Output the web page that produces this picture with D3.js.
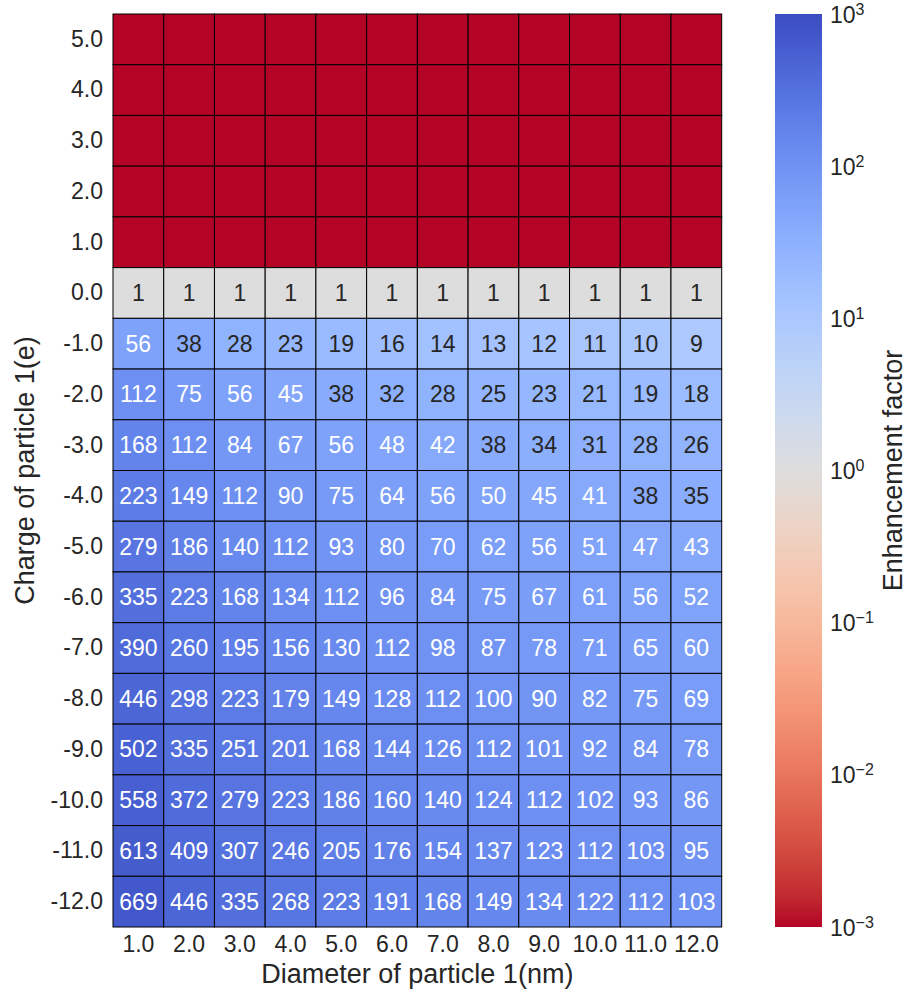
<!DOCTYPE html>
<html>
<head>
<meta charset="utf-8">
<script src="https://cdn.jsdelivr.net/npm/d3@7"></script>
<style>
  html, body { margin: 0; padding: 0; background: #fff; }
  svg { display: block; font-family: "Liberation Sans", Arial, Helvetica, sans-serif; }
</style>
</head>
<body>
<svg id="chart" width="908" height="991"></svg>
<script>
// Particle diameters (nm), columns
const diameters = [1.0, 2.0, 3.0, 4.0, 5.0, 6.0, 7.0, 8.0, 9.0, 10.0, 11.0, 12.0];
// Particle charges (e), rows from top to bottom
const charges = [5.0, 4.0, 3.0, 2.0, 1.0, 0.0, -1.0, -2.0, -3.0, -4.0, -5.0, -6.0, -7.0, -8.0, -9.0, -10.0, -11.0, -12.0];

// Enhancement factor per charge row (repulsive rows are ~0 and shown without a label)
const rowPos5  = [0, 0, 0, 0, 0, 0, 0, 0, 0, 0, 0, 0];
const rowPos4  = [0, 0, 0, 0, 0, 0, 0, 0, 0, 0, 0, 0];
const rowPos3  = [0, 0, 0, 0, 0, 0, 0, 0, 0, 0, 0, 0];
const rowPos2  = [0, 0, 0, 0, 0, 0, 0, 0, 0, 0, 0, 0];
const rowPos1  = [0, 0, 0, 0, 0, 0, 0, 0, 0, 0, 0, 0];
const rowZero  = [1, 1, 1, 1, 1, 1, 1, 1, 1, 1, 1, 1];
const rowNeg1  = [56, 38, 28, 23, 19, 16, 14, 13, 12, 11, 10, 9];
const rowNeg2  = [112, 75, 56, 45, 38, 32, 28, 25, 23, 21, 19, 18];
const rowNeg3  = [168, 112, 84, 67, 56, 48, 42, 38, 34, 31, 28, 26];
const rowNeg4  = [223, 149, 112, 90, 75, 64, 56, 50, 45, 41, 38, 35];
const rowNeg5  = [279, 186, 140, 112, 93, 80, 70, 62, 56, 51, 47, 43];
const rowNeg6  = [335, 223, 168, 134, 112, 96, 84, 75, 67, 61, 56, 52];
const rowNeg7  = [390, 260, 195, 156, 130, 112, 98, 87, 78, 71, 65, 60];
const rowNeg8  = [446, 298, 223, 179, 149, 128, 112, 100, 90, 82, 75, 69];
const rowNeg9  = [502, 335, 251, 201, 168, 144, 126, 112, 101, 92, 84, 78];
const rowNeg10 = [558, 372, 279, 223, 186, 160, 140, 124, 112, 102, 93, 86];
const rowNeg11 = [613, 409, 307, 246, 205, 176, 154, 137, 123, 112, 103, 95];
const rowNeg12 = [669, 446, 335, 268, 223, 191, 168, 149, 134, 122, 112, 103];
const rows = [rowPos5, rowPos4, rowPos3, rowPos2, rowPos1, rowZero, rowNeg1, rowNeg2,
              rowNeg3, rowNeg4, rowNeg5, rowNeg6, rowNeg7, rowNeg8, rowNeg9, rowNeg10,
              rowNeg11, rowNeg12];

// Colour bar exponents (10^e)
const cbarExponents = [3, 2, 1, 0, -1, -2, -3];

// Diverging cool-warm palette (blue -> gray -> red), 33 stops
const coolwarmStops = [
  [59,76,192],[68,90,204],[77,104,215],[87,117,225],[98,130,234],[108,142,241],
  [119,154,247],[130,165,251],[141,176,254],[152,185,255],[163,194,255],[174,201,253],
  [184,208,249],[194,213,244],[204,217,238],[213,219,230],[221,221,221],[229,216,209],
  [236,211,197],[241,204,185],[245,196,173],[247,187,160],[247,177,148],[247,166,135],
  [244,154,123],[241,141,111],[236,127,99],[229,112,88],[222,96,77],[213,80,66],
  [203,62,56],[192,40,47],[180,4,38]
];
function coolwarm(t) {
  t = Math.max(0, Math.min(1, t));
  const n = coolwarmStops.length - 1;
  const p = t * n;
  const i = Math.min(n - 1, Math.floor(p));
  const f = p - i;
  const a = coolwarmStops[i], b = coolwarmStops[i + 1];
  return d3.rgb(a[0] + (b[0] - a[0]) * f, a[1] + (b[1] - a[1]) * f, a[2] + (b[2] - a[2]) * f);
}

const vmin = 1e-3, vmax = 1e3;
const logNorm = d3.scaleLog().domain([vmin, vmax]).range([0, 1]).clamp(true);
// reversed palette: high values blue, low values red
const colorOf = v => coolwarm(1 - logNorm(Math.max(v, vmin)));

function luminance(c) {
  const lin = x => { x /= 255; return x <= 0.03928 ? x / 12.92 : Math.pow((x + 0.055) / 1.055, 2.4); };
  return 0.2126 * lin(c.r) + 0.7152 * lin(c.g) + 0.0722 * lin(c.b);
}

const svg = d3.select("#chart");
const plotLeft = 113, plotRight = 721.7, plotTop = 14, plotBottom = 927;
const tickFont = 23, labelFont = 27;

const x = d3.scaleBand().domain(diameters.map(String)).range([plotLeft, plotRight]).padding(0);
const y = d3.scaleBand().domain(charges.map(String)).range([plotTop, plotBottom]).padding(0);

const cells = [];
charges.forEach((c, ri) => diameters.forEach((d, ci) => cells.push({ c, d, v: rows[ri][ci] })));

const g = svg.append("g");
g.selectAll("rect.cell").data(cells).enter().append("rect")
  .attr("class", "cell")
  .attr("x", d => x(String(d.d)))
  .attr("y", d => y(String(d.c)))
  .attr("width", x.bandwidth())
  .attr("height", y.bandwidth())
  .attr("fill", d => colorOf(d.v))
  .attr("stroke", "#000")
  .attr("stroke-width", 1);

g.selectAll("text.annot").data(cells.filter(d => d.v >= 1)).enter().append("text")
  .attr("class", "annot")
  .attr("x", d => x(String(d.d)) + x.bandwidth() / 2)
  .attr("y", d => y(String(d.c)) + y.bandwidth() / 2)
  .attr("text-anchor", "middle")
  .attr("dominant-baseline", "central")
  .attr("font-size", tickFont)
  .attr("fill", d => luminance(colorOf(d.v)) > 0.408 ? "#262626" : "#ffffff")
  .text(d => d3.format(".0f")(d.v));

// Axes (plain hyphen for negative tick labels)
const fmt1 = v => (v < 0 ? "-" : "") + Math.abs(v).toFixed(1);
const xAxis = svg.append("g").attr("transform", `translate(0,${plotBottom})`)
  .call(d3.axisBottom(x).tickSize(0).tickPadding(9).tickFormat(d => fmt1(+d)));
const yAxis = svg.append("g").attr("transform", `translate(${plotLeft},0)`)
  .call(d3.axisLeft(y).tickSize(0).tickPadding(10).tickFormat(d => fmt1(+d)));
[xAxis, yAxis].forEach(a => {
  a.select(".domain").remove();
  a.selectAll("text").attr("font-size", tickFont).attr("fill", "#262626")
    .attr("font-family", "Liberation Sans, Arial, sans-serif");
});

svg.append("text")
  .attr("x", (plotLeft + plotRight) / 2).attr("y", 983)
  .attr("text-anchor", "middle").attr("font-size", labelFont).attr("fill", "#262626")
  .text("Diameter of particle 1(nm)");
svg.append("text")
  .attr("transform", `translate(34,${(plotTop + plotBottom) / 2}) rotate(-90)`)
  .attr("text-anchor", "middle").attr("font-size", labelFont).attr("fill", "#262626")
  .text("Charge of particle 1(e)");

// Colour bar
const cbX = 775, cbW = 47;
const cbScale = d3.scaleLog().domain([vmin, vmax]).range([plotBottom, plotTop]);
const defs = svg.append("defs");
const grad = defs.append("linearGradient").attr("id", "cbgrad")
  .attr("x1", 0).attr("y1", 1).attr("x2", 0).attr("y2", 0);
d3.range(0, 1.0001, 1 / 64).forEach(t => {
  grad.append("stop").attr("offset", t).attr("stop-color", coolwarm(1 - t));
});
svg.append("rect").attr("x", cbX).attr("y", plotTop).attr("width", cbW).attr("height", plotBottom - plotTop)
  .attr("fill", "url(#cbgrad)");

const cbTicks = svg.append("g");
cbarExponents.forEach(e => {
  const t = cbTicks.append("text")
    .attr("x", cbX + cbW + 8)
    .attr("y", cbScale(Math.pow(10, e)) + 8.5)
    .attr("font-size", tickFont).attr("fill", "#262626");
  t.append("tspan").text("10");
  t.append("tspan").attr("dy", -8).attr("font-size", 16)
    .text(String(e).replace("-", "\u2212"));
});

svg.append("text")
  .attr("transform", `translate(902,${(plotTop + plotBottom) / 2}) rotate(-90)`)
  .attr("text-anchor", "middle").attr("font-size", labelFont).attr("fill", "#262626")
  .text("Enhancement factor");
</script>
</body>
</html>
